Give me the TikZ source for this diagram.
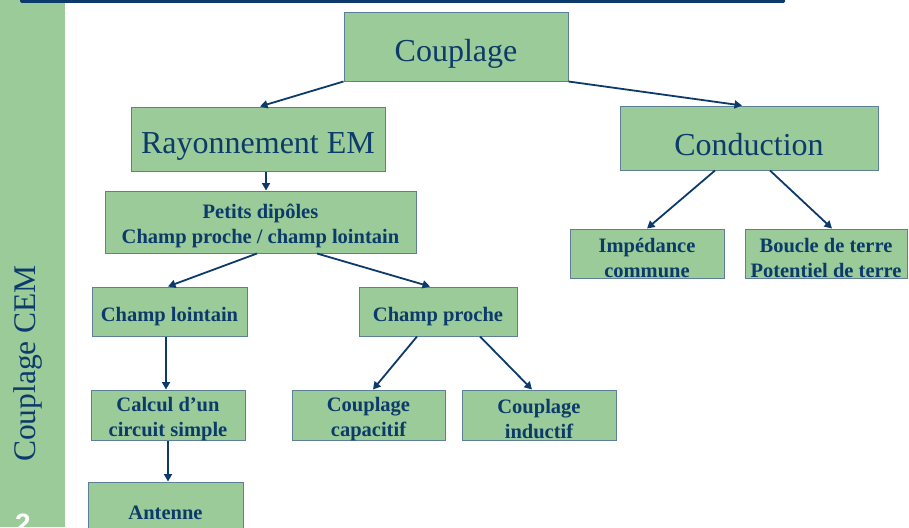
\documentclass[tikz,border=0pt]{standalone}
\usepackage{fontspec}
\setmainfont{Liberation Serif}
\setsansfont{Liberation Sans}
\usetikzlibrary{arrows.meta}
\definecolor{cemgreen}{HTML}{9BCB98}
\definecolor{cemnavy}{HTML}{0B3A6B}
\definecolor{cemedge}{HTML}{5E7F98}

\begin{document}
\begin{tikzpicture}[x=1pt, y=-1pt, >={Triangle[length=7.5pt,width=8pt]},
	box/.style={draw=cemedge, line width=1pt, fill=cemgreen, text=cemnavy, inner sep=0pt, align=center},
	bigbox/.style={box, font=\fontsize{32}{36}\selectfont, execute at begin node={\rule{0pt}{35pt}}},
	onebox/.style={box, font=\fontsize{20.5}{26}\selectfont\bfseries, execute at begin node={\rule{0pt}{24.5pt}}},
	twotext/.style={text=cemnavy, inner sep=0pt, align=center, font=\fontsize{20.5}{25}\selectfont\bfseries, yshift=-4pt},
	twobox/.style={box, label={[twotext]center:{#1}}},
	fleche/.style={->, draw=cemnavy, line width=1.8pt}]
		\useasboundingbox (0,0) rectangle (909,527);
		\clip (0,0) rectangle (909,527);
		
		% slide background
		\fill[cemgreen] (0,0) rectangle (65,527);
		\fill[cemnavy, rounded corners=1.5pt] (20,-2) rectangle (785,3);
		\node[rotate=90, anchor=base, inner sep=0pt, text=cemnavy, font=\fontsize{31.5}{32}\selectfont] (bande) at (35,363.5) {Couplage CEM};
		\node[anchor=base, inner sep=0pt, text=white, font=\fontsize{28}{28}\selectfont\sffamily\bfseries] (page) at (23,533) {2};
		
		% boxes
		\node[bigbox, minimum width=224, minimum height=68] (coup) at (456,47) {Couplage};
		\node[bigbox, minimum width=254, minimum height=64] (rayon) at (258,139) {Rayonnement EM};
		\node[bigbox, minimum width=258, minimum height=64] (cond) at (749,138) {Conduction};
		\node[twobox={Petits dipôles\\Champ proche / champ lointain}, minimum width=311, minimum height=62] (pd) at (260.5,222) {};
		\node[twobox={Impédance\\commune}, minimum width=154, minimum height=49] (imp) at (647,253.5) {};
		\node[twobox={Boucle de terre\\Potentiel de terre}, minimum width=162, minimum height=49] (boucle) at (826,253.5) {};
		\node[onebox, minimum width=155, minimum height=49] (cl) at (169.5,311.5) {Champ lointain};
		\node[onebox, minimum width=158, minimum height=49] (cp) at (438,311.5) {Champ proche};
		\node[twobox={Calcul d’un\\circuit simple}, minimum width=154, minimum height=50] (calc) at (168,415) {};
		\node[twobox={Couplage\\capacitif}, minimum width=153, minimum height=50] (capa) at (368.5,415) {};
		\node[twobox={Couplage\\inductif}, minimum width=154, minimum height=50] (ind) at (539,415) {};
		\node[onebox, minimum width=155, minimum height=50] (ant) at (165.5,507) {Antenne};
		
		% arrows
		\draw[fleche] (coup.south west) to ([xshift=2pt]rayon.north);
		\draw[fleche] (coup.south east) to ([xshift=-7pt]cond.north);
		\draw[fleche] ([xshift=8pt]rayon.south) to ([xshift=5.5pt]pd.north);
		\draw[fleche] ([xshift=-3.5pt]pd.south) to ([xshift=-1.5pt]cl.north);
		\draw[fleche] ([xshift=56.5pt]pd.south) to ([xshift=-8pt]cp.north);
		\draw[fleche] ([xshift=-34pt]cond.south) to (imp.north);
		\draw[fleche] ([xshift=21pt]cond.south) to ([xshift=6pt]boucle.north);
		\draw[fleche] ([xshift=-3.5pt]cl.south) to ([xshift=-2pt]calc.north);
		\draw[fleche] ([xshift=-21pt]cp.south) to ([xshift=4.5pt]capa.north);
		\draw[fleche] ([xshift=42pt]cp.south) to ([xshift=-7pt]ind.north);
		\draw[fleche] (calc.south) to ([xshift=2.5pt]ant.north);
		
	\end{tikzpicture}
\end{document}
